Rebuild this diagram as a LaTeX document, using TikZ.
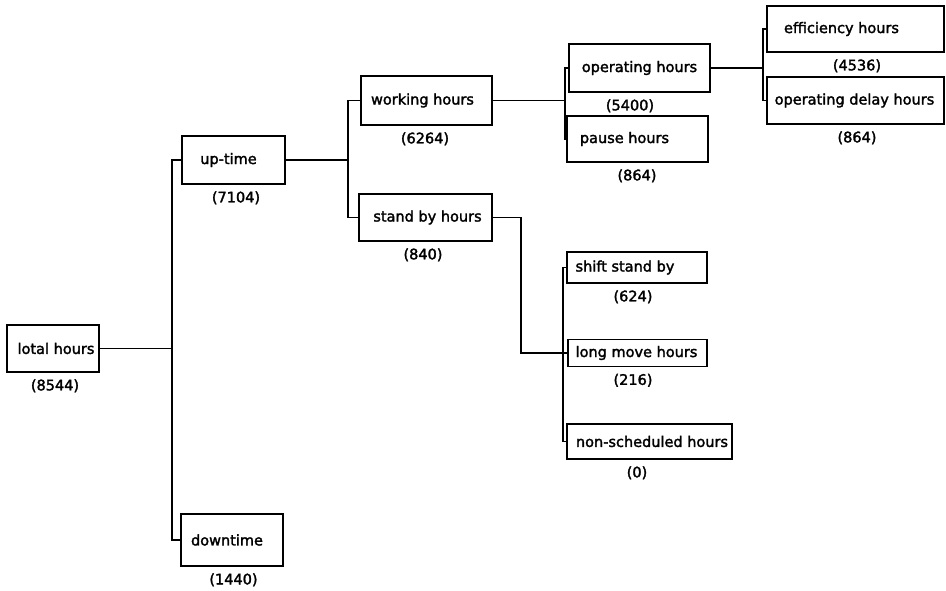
\documentclass[tikz,border=0pt]{standalone}
\usepackage{fontspec}
\setmainfont{DejaVu Sans}
\newfontfamily\plotfont[FakeBold=2]{DejaVu Sans}
\usepackage{tikz}
\usetikzlibrary{calc}
\tikzset{
	box/.style={draw, line width=1.6pt, inner sep=0pt},
	boxtext/.style={font=\plotfont\fontsize{14.5}{16}\selectfont, inner sep=0pt},
	count/.style={font=\plotfont\fontsize{14.5}{16}\selectfont, inner sep=0pt},
	link/.style={line width=1.4pt},
}

\begin{document}
\begin{tikzpicture}[x=1pt, y=-1pt]
	\useasboundingbox (0,0) rectangle (946,590);

	% boxes: name/centre x/centre y/width/height/text shift/count shift/text/count
	\foreach \nm/\cx/\cy/\w/\h/\tx/\nx/\txt/\num in {
		total/53/348.5/92/47/3/2/lotal hours/8544,
		up/233.5/160/103/48/-5/2.5/up-time/7104,
		down/232/540/102/52/-5/1.5/downtime/1440,
		work/426.5/100.5/131/49/-4/-1.5/working hours/6264,
		stand/425.5/217.5/133/47/2/-2.5/stand by hours/840,
		oper/639.5/68/141/48/0/-9.5/operating hours/5400,
		pause/637.5/139/141/46/-13/-0.5/pause hours/864,
		eff/855.5/29/177/46/-14/1.5/efficiency hours/4536,
		delay/855.5/100.5/177/47/-1/1.5/operating delay hours/864,
		shift/637/267.5/140/31/-12/-4/shift stand by/624,
		long/637.5/353/139/27/-1/-4.5/long move hours/216,
		nonsch/649.5/441.5/165/35/2.5/-12.5/non-scheduled hours/0}
	{
		\node[box, minimum width=\w, minimum height=\h] (\nm) at (\cx,\cy) {};
		\node[boxtext] (\nm-t) at ([xshift=\tx]\nm.center) {\txt};
		\node[count] (\nm-n) at ([xshift=\nx, yshift=-13]\nm.south) {(\num)};
	}

	% branch points
	\coordinate (j0) at (172,350);
	\coordinate (j1) at (348,160);
	\coordinate (j2) at (565,100.5);
	\coordinate (j3) at (763,68);
	\coordinate (sb) at (521,353);
	\coordinate (j4) at (563,353);

	% total hours -> up-time / downtime
	\draw[link] (total) -- (total -| j0);
	\draw[link] (up.west) -| (j0) |- (down.west);

	% up-time -> working / stand by
	\draw[link] (up) -- (up -| j1);
	\draw[link] (work.west) -| (j1) |- (stand.west);

	% working hours -> operating / pause
	\draw[link] (work) -- (work -| j2);
	\draw[link] (oper.west) -| (j2) |- (pause.west);

	% operating hours -> efficiency / delay
	\draw[link] (oper) -- (oper -| j3);
	\draw[link] (eff.west) -| (j3) |- (delay.west);

	% stand by hours -> the three stand by parts
	\draw[link] (stand.east) -| (sb) -- (j4);
	\draw[link] (shift.west) -| (j4) |- (nonsch.west);
	\draw[link] (j4) -- (long.west);
\end{tikzpicture}
\end{document}
